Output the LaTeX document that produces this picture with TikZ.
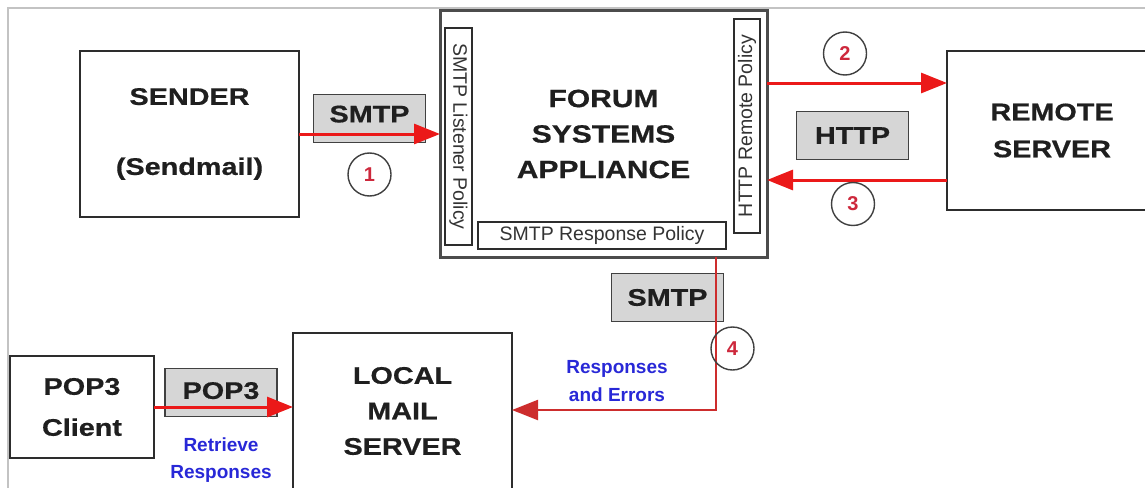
\documentclass[tikz,border=0pt]{standalone}
\usepackage{fontspec}
\setmainfont{Liberation Sans}
\newfontfamily\lblfont{Liberation Sans Bold}[FakeStretch=1.2,FakeBold=0.6]
\newfontfamily\boldfont{Liberation Sans Bold}
\usetikzlibrary{arrows.meta,calc}
\definecolor{arrred}{RGB}{235,25,25}
\definecolor{darkred}{RGB}{205,45,45}
\definecolor{numred}{RGB}{205,40,60}
\definecolor{boxline}{RGB}{45,45,45}
\definecolor{tagfill}{RGB}{214,214,214}
\definecolor{tagline}{RGB}{65,65,65}
\definecolor{frameg}{RGB}{195,195,195}
\definecolor{bluetxt}{RGB}{40,40,215}
\begin{document}
\begin{tikzpicture}[x=1pt,y=-1pt,
  mainbox/.style={draw=boxline,line width=1.8pt,fill=white,inner sep=0pt,outer sep=0pt,align=center,text=black!88},
  tagbox/.style={draw=tagline,fill=tagfill,line width=1.8pt,inner sep=0pt,outer sep=0pt,minimum width=112pt,minimum height=48pt,font=\lblfont\fontsize{24}{28}\selectfont,text=black!88},
  polbox/.style={draw=boxline,line width=1.3pt,fill=white,inner sep=0pt,outer sep=0pt,font=\fontsize{19.5}{22}\selectfont,text=black!80},
  numc/.style={circle,draw=black!75,line width=1.4pt,minimum size=43pt,inner sep=0pt,font=\boldfont\fontsize{20}{22}\selectfont,text=numred},
  arr/.style={draw=arrred,line width=3pt,-{Triangle[length=26pt,width=20pt]}},
  arrthin/.style={draw=darkred,line width=2.2pt,-{Triangle[length=26pt,width=20pt]}},
  bluelbl/.style={align=center,text=bluetxt,inner sep=0pt}
]
\useasboundingbox (0,0) rectangle (1145,487);
% frame
\coordinate (ftl) at (8,8);
\coordinate (ftr) at (1146,8);
\coordinate (fbl) at (8,488);
\draw[frameg,line width=2pt] (ftr) -- (ftl) -- (fbl);

% main boxes
\node[mainbox,minimum width=219pt,minimum height=166pt,font=\lblfont\fontsize{24}{70}\selectfont] (sender) at (189.5,134) {SENDER\\(Sendmail)};
\node[mainbox,line width=3pt,draw=black!70,minimum width=327pt,minimum height=246pt,font=\lblfont\fontsize{25}{35.5}\selectfont] (forum) at (603.5,134) {FORUM\\SYSTEMS\\APPLIANCE};
\node[mainbox,minimum width=210pt,minimum height=159pt,font=\lblfont\fontsize{24}{37}\selectfont] (remote) at (1052,130.5) {REMOTE\\SERVER};
\node[mainbox,minimum width=219pt,minimum height=156pt,font=\lblfont\fontsize{24}{35.5}\selectfont] (local) at (402.5,411) {LOCAL\\MAIL\\SERVER};
\node[mainbox,minimum width=144pt,minimum height=102pt,font=\lblfont\fontsize{24}{41}\selectfont] (pop) at (82,407) {POP3\\Client};

% policy boxes
\node[polbox,rotate=-90,minimum width=217pt,minimum height=27pt] (listen) at (458.5,136.5) {SMTP Listener Policy};
\node[polbox,rotate=90,minimum width=214pt,minimum height=26pt] (hrp) at (747,126) {HTTP Remote Policy};
\node[polbox,minimum width=248pt,minimum height=27pt] (resp) at (602,235.5) {SMTP Response Policy};

% protocol tags
\node[tagbox] (smtp1) at (369.5,118.5) {\raisebox{9pt}{SMTP}};
\node[tagbox] (http) at (852.5,135.5) {HTTP};
\node[tagbox] (smtp2) at (667.5,297.5) {SMTP};
\node[tagbox] (pop3) at (221,392.5) {\raisebox{4pt}{POP3}};

% connectors
\draw[arr] (sender.east) -- (sender.east -| forum.west);
\draw[arr] ([yshift=51pt]forum.east) -- ([yshift=51pt]forum.east -| remote.west);
\draw[arr] ([yshift=-46pt]forum.east -| remote.west) -- ([yshift=-46pt]forum.east);
\draw[arr] (pop.east) -- (pop.east -| local.west);
\draw[arrthin] ([xshift=112.5pt]forum.south) |- ([yshift=1pt]local.east);

% step numbers
\node[numc] (n1) at (369.5,174.5) {1};
\node[numc] (n2) at (845,53.5) {2};
\node[numc] (n3) at (853,204) {3};
\node[numc] (n4) at (732.5,348.5) {4};

% blue labels
\node[bluelbl,font=\boldfont\fontsize{19}{28}\selectfont] (resperr) at (617,381) {Responses\\and Errors};
\node[bluelbl,font=\boldfont\fontsize{19}{27}\selectfont] (retr) at (221,460.5) {Retrieve\\Responses};
\end{tikzpicture}
\end{document}
